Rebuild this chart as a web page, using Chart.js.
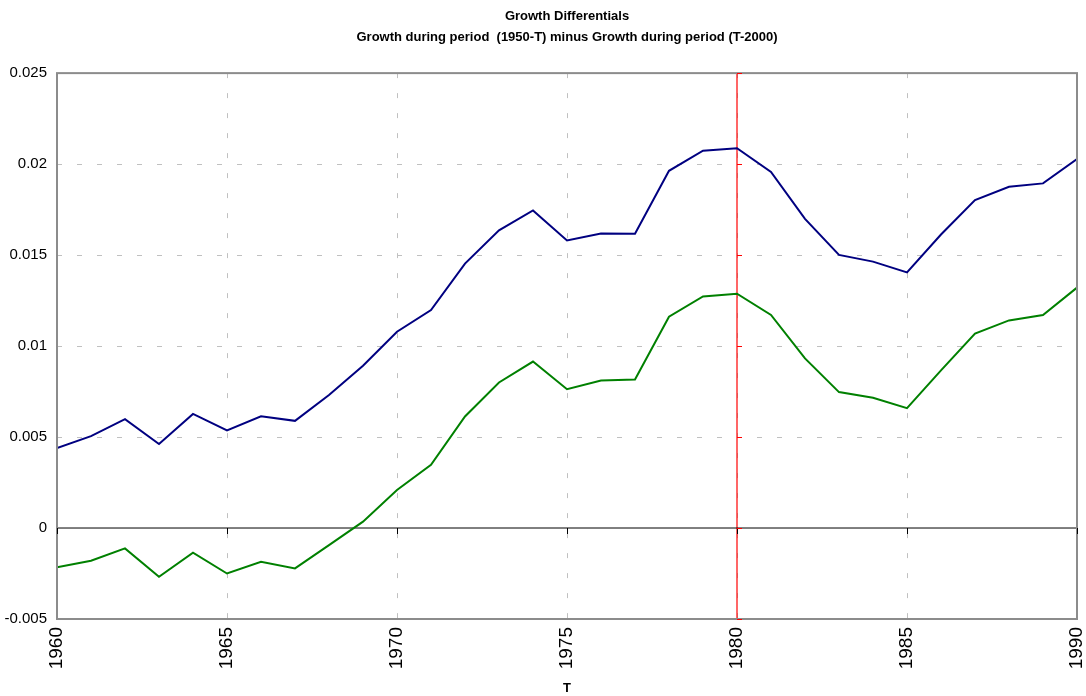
<!DOCTYPE html>
<html>
<head>
<meta charset="utf-8">
<script src="https://cdn.jsdelivr.net/npm/chart.js@4.4.1/dist/chart.umd.min.js"></script>
<style>
  html, body { margin: 0; padding: 0; background: #fff; }
  #wrap { width: 1086px; height: 696px; }
</style>
</head>
<body>
<div id="wrap"><canvas id="growthChart" width="1086" height="696"></canvas></div>
<script>
// 데이터
const years = [1960, 1961, 1962, 1963, 1964, 1965, 1966, 1967, 1968, 1969,
               1970, 1971, 1972, 1973, 1974, 1975, 1976, 1977, 1978, 1979,
               1980, 1981, 1982, 1983, 1984, 1985, 1986, 1987, 1988, 1989, 1990];
const blueSeries = [0.0044, 0.00505, 0.00598, 0.00462, 0.00627, 0.00536, 0.00614, 0.00589, 0.00731, 0.00892,
                    0.01079, 0.01198, 0.01453, 0.01636, 0.01745, 0.0158, 0.01618, 0.01617, 0.01963, 0.02074,
                    0.02087, 0.01957, 0.01699, 0.01501, 0.01464, 0.01405, 0.01613, 0.01802, 0.01875, 0.01894, 0.02028];
const greenSeries = [-0.00216, -0.0018, -0.00112, -0.00268, -0.00136, -0.0025, -0.00185, -0.00222, -0.00094, 0.00035,
                     0.00209, 0.00347, 0.00613, 0.008, 0.00915, 0.00763, 0.00811, 0.00816, 0.01161, 0.01273,
                     0.01288, 0.01171, 0.00932, 0.00747, 0.00716, 0.00659, 0.00866, 0.01068, 0.01141, 0.01171, 0.01321];
const markerYear = 1980;
const xTicks = [1960, 1965, 1970, 1975, 1980, 1985, 1990];
const yTicks = [-0.005, 0, 0.005, 0.01, 0.015, 0.02, 0.025];
const titleLines = ['Growth Differentials', 'Growth during period  (1950-T) minus Growth during period (T-2000)'];

const toPoints = (vals) => years.map((yr, i) => ({ x: yr, y: vals[i] }));
const yMin = yTicks[0], yMax = yTicks[yTicks.length - 1];
const xMin = years[0], xMax = years[years.length - 1];

// 외곽선 + 눈금 표시
const framePlugin = {
    id: 'frame',
    afterDraw(chart) {
        const { ctx, chartArea: a, scales } = chart;
        ctx.save();
        ctx.strokeStyle = '#8c8c8c';
        ctx.lineWidth = 2;
        ctx.strokeRect(a.left, a.top, a.right - a.left, a.bottom - a.top);

        // x 눈금 (0 선 아래)
        const y0 = scales.y.getPixelForValue(0);
        ctx.strokeStyle = '#000';
        ctx.lineWidth = 1;
        xTicks.forEach(t => {
            const px = Math.round(scales.x.getPixelForValue(t)) + 0.5;
            ctx.beginPath(); ctx.moveTo(px, y0); ctx.lineTo(px, y0 + 6); ctx.stroke();
        });

        // 빨간 세로선 눈금
        const rx = scales.x.getPixelForValue(markerYear);
        ctx.strokeStyle = '#ff0000';
        yTicks.forEach(t => {
            const py = Math.round(scales.y.getPixelForValue(t)) + 0.5;
            ctx.beginPath(); ctx.moveTo(rx, py); ctx.lineTo(rx + 5, py); ctx.stroke();
        });
        ctx.restore();
    }
};

const ctx = document.getElementById('growthChart').getContext('2d');
new Chart(ctx, {
    type: 'line',
    data: {
        datasets: [
            { data: toPoints(blueSeries), borderColor: '#000080', borderWidth: 2, pointRadius: 0, tension: 0 },
            { data: toPoints(greenSeries), borderColor: '#008000', borderWidth: 2, pointRadius: 0, tension: 0 },
            { data: [{ x: xMin, y: 0 }, { x: xMax, y: 0 }], borderColor: '#000000', borderWidth: 1, pointRadius: 0 },
            { data: [{ x: markerYear, y: yMin }, { x: markerYear, y: yMax }], borderColor: '#ff0000', borderWidth: 1.2, pointRadius: 0 }
        ]
    },
    options: {
        responsive: false,
        animation: false,
        layout: { padding: { left: 0, right: 9, top: 0, bottom: 0 } },
        plugins: {
            legend: { display: false },
            tooltip: { enabled: false },
            title: {
                display: true,
                fullSize: false,
                text: titleLines,
                color: '#000',
                font: { family: 'Arial, "Liberation Sans", sans-serif', size: 13, weight: 'bold', lineHeight: 1.62 },
                padding: { top: 6, bottom: 25 }
            }
        },
        scales: {
            x: {
                type: 'linear',
                min: xMin,
                max: xMax,
                afterBuildTicks: (scale) => { scale.ticks = xTicks.map(v => ({ value: v })); },
                afterFit: (scale) => { scale.height = 77; scale.paddingLeft = 0; scale.paddingRight = 0; },
                grid: {
                    color: (c) => (c.tick && (c.tick.value === xMin || c.tick.value === xMax)) ? 'rgba(0,0,0,0)' : '#c0c0c0',
                    drawTicks: false
                },
                border: { display: false, dash: [5, 15] },
                ticks: {
                    minRotation: 90,
                    maxRotation: 90,
                    padding: 8,
                    color: '#000',
                    autoSkip: false,
                    font: { family: 'Arial, "Liberation Sans", sans-serif', size: 19 },
                    callback: (v) => String(v)
                },
                title: {
                    display: true,
                    text: 'T',
                    color: '#000',
                    padding: { top: 0, bottom: 0 },
                    font: { family: 'Arial, "Liberation Sans", sans-serif', size: 13, weight: 'bold' }
                }
            },
            y: {
                min: yMin,
                max: yMax,
                afterBuildTicks: (scale) => { scale.ticks = yTicks.map(v => ({ value: v })); },
                afterFit: (scale) => { scale.width = 57; },
                grid: {
                    color: (c) => (c.tick && (c.tick.value === yMin || c.tick.value === yMax || c.tick.value === 0)) ? 'rgba(0,0,0,0)' : '#c0c0c0',
                    drawTicks: false
                },
                border: { display: false, dash: [5, 15] },
                ticks: {
                    padding: 10,
                    color: '#000',
                    font: { family: 'Arial, "Liberation Sans", sans-serif', size: 15 },
                    callback: (v) => String(Number(v.toFixed(3)))
                }
            }
        }
    },
    plugins: [framePlugin]
});
</script>
</body>
</html>
